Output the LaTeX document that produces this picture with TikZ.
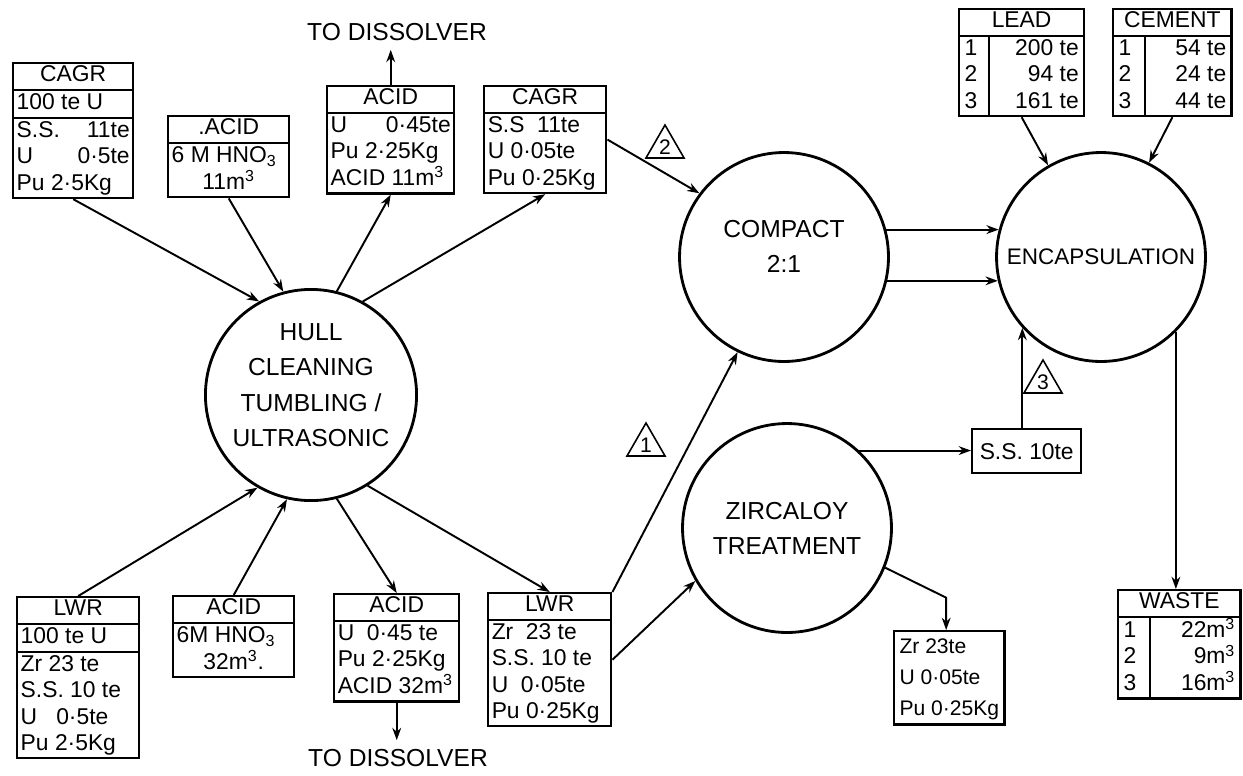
\documentclass[tikz,border=0pt]{standalone}
\usepackage{fontspec}
\setmainfont{Liberation Sans}
\usepackage{array}
\usetikzlibrary{arrows.meta,shapes.geometric}

\newcommand\boxfont{\fontsize{13}{14.5}\selectfont}
\newcommand\stagefont{\fontsize{14}{20}\selectfont}
\newcommand\headcell[1]{\hfill#1\hfill\mbox{}}
\setlength{\arrayrulewidth}{1pt}
\renewcommand{\arraystretch}{1.03}
\newcolumntype{B}[1]{@{\hspace{2pt}}p{#1}@{\hspace{2pt}}}
\newcolumntype{T}[2]{@{\hspace{3pt}}p{#1}@{}|@{}>{\raggedleft\arraybackslash}p{#2}@{\hspace{3pt}}}

\tikzset{
    stage/.style={draw, circle, line width=1.6pt, minimum size=4.18cm, inner sep=0pt, align=center, font=\stagefont},
    databox/.style={draw, line width=1.4pt, inner sep=0pt, anchor=north west, font=\boxfont},
    marker/.style={draw, regular polygon, regular polygon sides=3, minimum size=0.88cm, inner sep=0pt, line width=0.9pt, font=\fontsize{12}{12}\selectfont},
    flow/.style={->, line width=1.1pt},
}

\begin{document}
\begin{tikzpicture}[x=0.02cm,y=-0.02cm,>={Stealth[length=7pt,width=5pt]}]
    \useasboundingbox (0,0) rectangle (1243,775);

    % process stages
    \node[stage, text depth=0.4cm] (hull) at (311,395) {HULL\\CLEANING\\TUMBLING /\\ULTRASONIC};
    \node[stage, text depth=0.44cm] (compact) at (784,257) {COMPACT\\2:1};
    \node[stage] (zirc) at (787,528) {ZIRCALOY\\TREATMENT};
    \node[stage, font=\fontsize{12.8}{15}\selectfont] (encap) at (1101,257) {ENCAPSULATION};

    % feeds and products, top row
    \node[databox] (cagrA) at (12,62) {\begin{tabular}{B{2.26cm}}
        \headcell{CAGR}\\ \hline
        100 te U\\ \hline
        S.S.\hfill 11te\\
        U\hfill 0·5te\\
        Pu 2·5Kg
    \end{tabular}};
    \node[databox] (acidA) at (167,115) {\begin{tabular}{B{2.28cm}}
        \headcell{.ACID}\\ \hline
        6 M HNO\textsubscript{3}\\
        \headcell{11m\textsuperscript{3}}
    \end{tabular}};
    \node[databox] (acidB) at (326,85) {\begin{tabular}{B{2.40cm}}
        \headcell{ACID}\\ \hline
        U\hfill 0·45te\\
        Pu 2·25Kg\\
        ACID 11m\textsuperscript{3}
    \end{tabular}};
    \node[databox] (cagrB) at (483,85) {\begin{tabular}{B{2.30cm}}
        \headcell{CAGR}\\ \hline
        S.S~~11te\\
        U 0·05te\\
        Pu 0·25Kg
    \end{tabular}};
    \node[databox] (lead) at (958,8) {\begin{tabular}{T{0.47cm}{1.78cm}}
        \multicolumn{2}{c}{LEAD}\\ \hline
        1 & 200 te\\
        2 & 94 te\\
        3 & 161 te
    \end{tabular}};
    \node[databox] (cement) at (1112,8) {\begin{tabular}{T{0.51cm}{1.61cm}}
        \multicolumn{2}{c}{CEMENT}\\ \hline
        1 & 54 te\\
        2 & 24 te\\
        3 & 44 te
    \end{tabular}};

    % feeds and products, bottom row
    \node[databox] (lwrA) at (16,596) {\begin{tabular}{B{2.30cm}}
        \headcell{LWR}\\ \hline
        100 te U\\ \hline
        Zr~23 te\\
        S.S. 10 te\\
        U~~~0·5te\\
        Pu 2·5Kg
    \end{tabular}};
    \node[databox] (acidC) at (172,595) {\begin{tabular}{B{2.28cm}}
        \headcell{ACID}\\ \hline
        6M~HNO\textsubscript{3}\\
        \headcell{32m\textsuperscript{3}.}
    \end{tabular}};
    \node[databox] (acidD) at (333,593) {\begin{tabular}{B{2.36cm}}
        \headcell{ACID}\\ \hline
        U~~0·45 te\\
        Pu 2·25Kg\\
        ACID 32m\textsuperscript{3}
    \end{tabular}};
    \node[databox] (lwrB) at (487,592) {\begin{tabular}{B{2.32cm}}
        \headcell{LWR}\\ \hline
        Zr~~23 te\\
        S.S.~10 te\\
        U~~0·05te\\
        Pu 0·25Kg
    \end{tabular}};
    \node[databox, font=\fontsize{12}{14.5}\selectfont] (zrbox) at (893,630) {\renewcommand{\arraystretch}{1.22}\begin{tabular}{@{\hspace{3pt}}l@{\hspace{3pt}}}
        Zr~23te\\
        U 0·05te\\
        Pu 0·25Kg
    \end{tabular}};
    \node[databox, minimum width=2.18cm, minimum height=0.88cm] (ssbox) at (971,428) {S.S. 10te};
    \node[databox] (waste) at (1117,589) {\begin{tabular}{T{0.51cm}{1.69cm}}
        \multicolumn{2}{c}{WASTE}\\ \hline
        1 & 22m\textsuperscript{3}\\
        2 & 9m\textsuperscript{3}\\
        3 & 16m\textsuperscript{3}
    \end{tabular}};

    \node[font=\stagefont, inner sep=5pt] (dissA) at (397,32) {TO DISSOLVER};
    \node[font=\stagefont, inner sep=5pt] (dissB) at (398,758) {TO DISSOLVER};

    % stream markers
    \node[marker] (tri1) at (646,445) {1};
    \node[marker] (tri2) at (665,147) {2};
    \node[marker] (tri3) at (1043,382) {3};

    % hull cleaning streams
    \draw[flow] (cagrA.south) -- (hull.119);
    \draw[flow] (acidA.south) -- (hull.105);
    \draw[flow] (hull.76) -- (acidB.south);
    \draw[flow] (hull.61) -- (cagrB.south);
    \draw[flow] (acidB.north) -- (acidB.north |- dissA.south);
    \draw[flow] (lwrA.north) -- (hull.240);
    \draw[flow] (acidC.north) -- (hull.257);
    \draw[flow] (hull.284) -- (acidD.north);
    \draw[flow] (hull.302) -- (lwrB.north);
    \draw[flow] (acidD.south) -- (acidD.south |- dissB.north);

    % compaction, zircaloy and encapsulation
    \draw[flow] (cagrB.east) -- (compact.143);
    \draw[flow] (lwrB.north east) -- (compact.244);
    \draw[flow] (lwrB.east) -- (zirc.210);
    \draw[flow] (compact.15) -- (encap.165);
    \draw[flow] (compact.-13) -- (encap.193);
    \draw[flow] (zirc.47) -- (zirc.47 -| ssbox.west);
    \draw[flow] (encap.222 |- ssbox.north) -- (encap.222);
    \draw[flow] (zirc.338) -- ++(61,30) coordinate (zbend) -- (zbend |- zrbox.north);
    \draw[flow] (lead.south) -- (encap.120);
    \draw[flow] (cement.south) -- (encap.63);
    \draw[flow] (encap.315) -- (encap.315 |- waste.north);
\end{tikzpicture}
\end{document}
